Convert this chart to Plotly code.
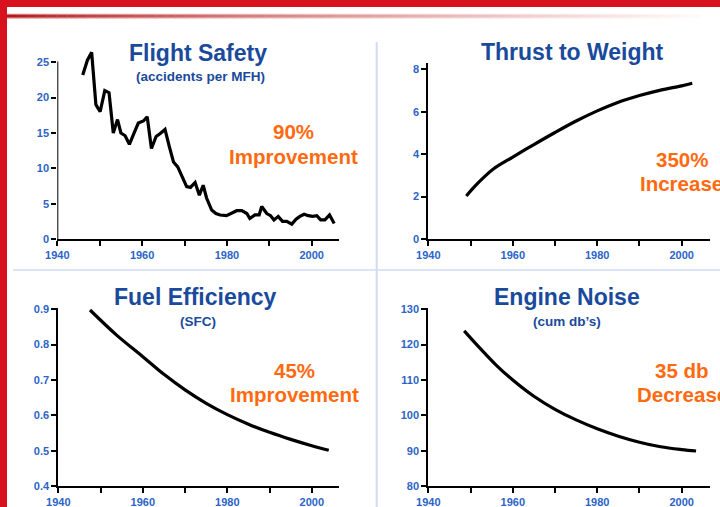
import plotly.graph_objects as go

# ---------------- data ----------------
safety_years = [1946.0, 1947.1, 1948.1, 1949.1, 1950.1, 1951.2, 1952.2, 1953.2, 1954.2, 1955.0,
                1956.0, 1957.0, 1957.9, 1959.1, 1960.3, 1961.2, 1962.2, 1963.3, 1964.2, 1965.4,
                1966.4, 1967.4, 1968.4, 1969.3, 1970.5, 1971.4, 1972.5, 1973.5, 1974.4, 1975.2,
                1976.4, 1977.4, 1978.4, 1979.9, 1981.1, 1982.3, 1983.5, 1984.7, 1985.4, 1986.6,
                1987.6, 1988.2, 1989.4, 1990.3, 1991.1, 1992.1, 1993.1, 1994.1, 1995.3, 1996.3,
                1997.2, 1998.2, 1999.2, 2000.2, 2001.2, 2002.1, 2003.1, 2004.2, 2005.3]
safety_values = [23.2, 25.3, 26.4, 19.0, 18.0, 21.0, 20.7, 15.0, 16.9, 15.0,
                 14.6, 13.4, 14.7, 16.4, 16.7, 17.3, 12.8, 14.5, 14.9, 15.5,
                 13.1, 10.9, 10.2, 9.1, 7.4, 7.3, 8.0, 6.2, 7.6, 5.8,
                 4.1, 3.6, 3.4, 3.3, 3.6, 4.0, 4.0, 3.6, 2.9, 3.4,
                 3.4, 4.6, 3.6, 3.3, 2.7, 3.2, 2.5, 2.5, 2.1, 2.8,
                 3.2, 3.5, 3.3, 3.2, 3.3, 2.7, 2.7, 3.4, 2.2]

thrust_years = [1949, 1951, 1953, 1955.4, 1960, 1965, 1970, 1975, 1980, 1985, 1990, 1995, 2000, 2002.5]
thrust_values = [2.03, 2.48, 2.88, 3.3, 3.86, 4.45, 5.02, 5.56, 6.04, 6.45, 6.76, 7.02, 7.22, 7.34]

fuel_years = [1947.5, 1953.8, 1960, 1965, 1970, 1975, 1980, 1985, 1990, 1995, 2000, 2004]
fuel_values = [0.898, 0.827, 0.766, 0.716, 0.672, 0.634, 0.602, 0.575, 0.552, 0.532, 0.514, 0.501]

noise_years = [1948.5, 1952, 1956, 1960, 1965, 1970, 1975, 1980, 1985, 1990, 1995, 2000, 2003.4]
noise_values = [123.9, 119.3, 114.3, 110.0, 105.4, 101.7, 98.7, 96.2, 94.1, 92.4, 91.1, 90.3, 89.9]

year_ticks = [1940, 1960, 1980, 2000]
safety_ticks = [0, 5, 10, 15, 20, 25]
thrust_ticks = [0, 2, 4, 6, 8]
fuel_ticks = [0.4, 0.5, 0.6, 0.7, 0.8, 0.9]
fuel_tick_text = ["0.4", "0.5", "0.6", "0.7", "0.8", "0.9"]
noise_ticks = [80, 90, 100, 110, 120, 130]

titles = ["Flight Safety", "Thrust to Weight", "Fuel Efficiency", "Engine Noise"]
subtitles = ["(accidents per MFH)", "", "(SFC)", "(cum db\u2019s)"]
callouts = [("90%", "Improvement"), ("350%", "Increase"), ("45%", "Improvement"), ("35 db", "Decrease")]

# ---------------- styling ----------------
W, H = 720, 507
FONT = "Liberation Sans, Arial, sans-serif"
TITLE_C = "#1a4a9c"
TICK_C = "#2c64c8"
ORANGE = "#ff6a10"
RED = "#d8111f"
SEP = "#cfdcf2"

def px(x):
    return x / W

def py(y):
    return 1 - y / H

fig = go.Figure()

series = [(safety_years, safety_values, "linear"),
          (thrust_years, thrust_values, "spline"),
          (fuel_years, fuel_values, "spline"),
          (noise_years, noise_values, "spline")]
for i, (xs, ys, shape) in enumerate(series):
    sfx = "" if i == 0 else str(i + 1)
    fig.add_trace(go.Scatter(x=xs, y=ys, mode="lines", xaxis="x" + sfx, yaxis="y" + sfx,
                             line=dict(color="black", width=3.2, shape=shape),
                             showlegend=False, hoverinfo="skip"))

def xax(domain, rng, anchor):
    return dict(domain=domain, range=rng, anchor=anchor, showline=True, linecolor="black",
                linewidth=2, ticks="outside", ticklen=5, tickwidth=2, tickcolor="black",
                tickvals=year_ticks, showgrid=False, zeroline=False, automargin=False,
                tickfont=dict(family=FONT, size=11, color=TICK_C, weight="bold"),
                minor=dict(dtick=10, tick0=1940, ticks="outside", ticklen=5, tickwidth=2,
                           tickcolor="black", showgrid=False),
                fixedrange=True)

def yax(domain, rng, anchor, tickvals, ticktext=None, showline=True):
    d = dict(domain=domain, range=rng, anchor=anchor, showline=showline, linecolor="black",
             linewidth=2, ticks="outside", ticklen=5, tickwidth=2, tickcolor="black",
             tickvals=tickvals, showgrid=False, zeroline=False, automargin=False,
             tickfont=dict(family=FONT, size=11, color=TICK_C, weight="bold"),
             fixedrange=True)
    if ticktext is not None:
        d["ticktext"] = ticktext
    return d

xl = [px(57.3), px(339.3)]
xr = [px(428.3), px(710)]
xl3 = [px(58.3), px(339.3)]

fig.update_layout(
    xaxis=xax(xl, [1940, 2006.5], "y"),
    yaxis=yax([py(239), py(48)], [0, 27.02], "x", safety_ticks, showline=False),
    xaxis2=xax(xr, [1940, 2006.7], "y2"),
    yaxis2=yax([py(239), py(62.7)], [0, 8.31], "x2", thrust_ticks),
    xaxis3=xax(xl3, [1940, 2006.5], "y3"),
    yaxis3=yax([py(486), py(308.3)], [0.4, 0.9028], "x3", fuel_ticks, fuel_tick_text),
    xaxis4=xax(xr, [1940, 2006.7], "y4"),
    yaxis4=yax([py(486), py(308.3)], [80, 130.28], "x4", noise_ticks),
)

shapes = []
# y-axis line for the flight-safety panel (curve overshoots the axis top)
shapes.append(dict(type="line", xref="x", yref="y", x0=1940, x1=1940, y0=0, y1=25.1,
                   line=dict(color="black", width=2)))
# red frame
shapes.append(dict(type="rect", xref="paper", yref="paper", x0=0, x1=1, y0=py(7), y1=1.01,
                   fillcolor=RED, line=dict(width=0), layer="above"))
shapes.append(dict(type="rect", xref="paper", yref="paper", x0=-0.01, x1=px(7), y0=-0.01, y1=1.01,
                   fillcolor=RED, line=dict(width=0), layer="above"))
# fading red rule under the top band (outer soft band + darker core)
n = 70
x_start, x_end = 7, 700
for k in range(n):
    t = k / (n - 1)
    f = t ** 0.75
    xa = x_start + (x_end - x_start) * k / n
    xb = x_start + (x_end - x_start) * (k + 1) / n + 0.6
    ro, go_, bo = int(215 + 40 * f), int(110 + 142 * f), int(110 + 142 * f)
    rc, gc, bc = int(178 + 77 * f), int(22 + 228 * f), int(22 + 228 * f)
    shapes.append(dict(type="rect", xref="paper", yref="paper", x0=px(xa), x1=px(xb),
                       y0=py(18.5), y1=py(13.8), fillcolor=f"rgb({ro},{go_},{bo})",
                       line=dict(width=0)))
    shapes.append(dict(type="rect", xref="paper", yref="paper", x0=px(xa), x1=px(xb),
                       y0=py(17.2), y1=py(15.0), fillcolor=f"rgb({rc},{gc},{bc})",
                       line=dict(width=0)))
# light-blue separators
shapes.append(dict(type="line", xref="paper", yref="paper", x0=px(376.7), x1=px(376.7),
                   y0=py(42), y1=-0.01, line=dict(color=SEP, width=2)))
shapes.append(dict(type="line", xref="paper", yref="paper", x0=px(13), x1=1.01,
                   y0=py(270), y1=py(270), line=dict(color=SEP, width=1.5)))
fig.update_layout(shapes=shapes)

ann = []
title_pos = [(198, 53), (572, 52), (196, 297), (567, 297)]
sub_pos = [(200, 76), None, (198, 321), (567, 321)]
call_pos = [((293, 131), (293, 156)), ((681.5, 159), (681.5, 183)),
            ((294, 370), (294, 394)), ((682, 370), (682, 394))]
for i in range(4):
    tx, ty = title_pos[i]
    ann.append(dict(text=titles[i], x=px(tx), y=py(ty), xref="paper", yref="paper",
                    xanchor="center", yanchor="middle", showarrow=False,
                    font=dict(family=FONT, size=23, color=TITLE_C, weight="bold")))
    if sub_pos[i] is not None:
        sx, sy = sub_pos[i]
        ann.append(dict(text=subtitles[i], x=px(sx), y=py(sy), xref="paper", yref="paper",
                        xanchor="center", yanchor="middle", showarrow=False,
                        font=dict(family=FONT, size=13.5, color=TITLE_C, weight="bold")))
    (c1x, c1y), (c2x, c2y) = call_pos[i]
    ann.append(dict(text=callouts[i][0], x=px(c1x), y=py(c1y), xref="paper", yref="paper",
                    xanchor="center", yanchor="middle", showarrow=False,
                    font=dict(family=FONT, size=20.5, color=ORANGE, weight="bold")))
    ann.append(dict(text=callouts[i][1], x=px(c2x), y=py(c2y), xref="paper", yref="paper",
                    xanchor="center", yanchor="middle", showarrow=False,
                    font=dict(family=FONT, size=20.5, color=ORANGE, weight="bold")))
fig.update_layout(annotations=ann)

fig.update_layout(width=W, height=H, margin=dict(l=0, r=0, t=0, b=0, autoexpand=False),
                  paper_bgcolor="white", plot_bgcolor="white", showlegend=False)

post = ("document.documentElement.style.margin='0';"
        "document.documentElement.style.overflow='hidden';"
        "document.body.style.margin='0';document.body.style.overflow='hidden';"
        "var d=document.getElementById('{plot_id}');"
        "d.style.position='fixed';d.style.left='0px';d.style.top='0px';")
fig.write_html("out.html", config={"displayModeBar": False}, post_script=post)
